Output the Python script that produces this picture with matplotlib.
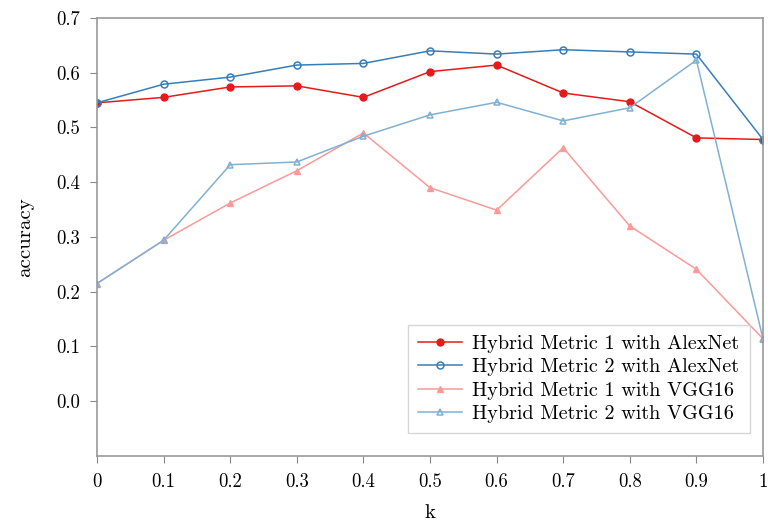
import matplotlib
matplotlib.use("Agg")
import matplotlib.pyplot as plt

# data
k = [0, 0.1, 0.2, 0.3, 0.4, 0.5, 0.6, 0.7, 0.8, 0.9, 1.0]
hm1_alex = [0.545, 0.555, 0.574, 0.576, 0.555, 0.602, 0.614, 0.563, 0.547, 0.481, 0.478]
hm2_alex = [0.545, 0.579, 0.592, 0.614, 0.617, 0.640, 0.634, 0.642, 0.638, 0.634, 0.478]
hm1_vgg = [0.215, 0.294, 0.362, 0.421, 0.490, 0.390, 0.349, 0.463, 0.320, 0.241, 0.114]
hm2_vgg = [0.215, 0.294, 0.432, 0.437, 0.484, 0.523, 0.546, 0.512, 0.536, 0.623, 0.114]
xtick_labels = ["0", "0.1", "0.2", "0.3", "0.4", "0.5", "0.6", "0.7", "0.8", "0.9", "1"]
yticks = [0.0, 0.1, 0.2, 0.3, 0.4, 0.5, 0.6, 0.7]

plt.rcParams['font.family'] = ['cmr10', 'DejaVu Serif']
plt.rcParams['axes.formatter.use_mathtext'] = True

fig = plt.figure(figsize=(7.68, 5.21), dpi=100)
ax = fig.add_axes([0.1263, 0.1248, 0.8672, 0.8407])

ax.plot(k, hm1_alex, color='#e41a1c', marker='o', ms=5, lw=1.1,
        label='Hybrid Metric 1 with AlexNet')
ax.plot(k, hm2_alex, color='#377eb8', marker='o', ms=5, mfc='none', mew=1.1, lw=1.1,
        label='Hybrid Metric 2 with AlexNet')
ax.plot(k, hm1_vgg, color='#fb9a99', marker='^', ms=5, lw=1.1,
        label='Hybrid Metric 1 with VGG16')
ax.plot(k, hm2_vgg, color='#80b1d3', marker='^', ms=5, mfc='none', mew=1.1, lw=1.1,
        label='Hybrid Metric 2 with VGG16')

ax.set_xlim(0, 1)
ax.set_ylim(-0.1, 0.7)
ax.set_xticks(k)
ax.set_xticklabels(xtick_labels)
ax.set_yticks(yticks)
ax.set_yticklabels(["%.1f" % v for v in yticks])
ax.tick_params(direction='out', length=5, color='#888888', labelsize=13.5, pad=7)

for s in ax.spines.values():
    s.set_color('#999999')
    s.set_linewidth(1.2)

ax.set_xlabel('k', fontsize=15, labelpad=10)
ax.set_ylabel('accuracy', fontsize=15, labelpad=16)

leg = ax.legend(loc='lower right', bbox_to_anchor=(0.995, 0.03), fontsize=14.5,
                frameon=True, fancybox=False, handlelength=2.2, borderpad=0.5,
                labelspacing=0.25, handletextpad=0.5)
leg.get_frame().set_edgecolor('#cccccc')
leg.get_frame().set_linewidth(1.0)

fig.savefig('out.png', dpi=100)
